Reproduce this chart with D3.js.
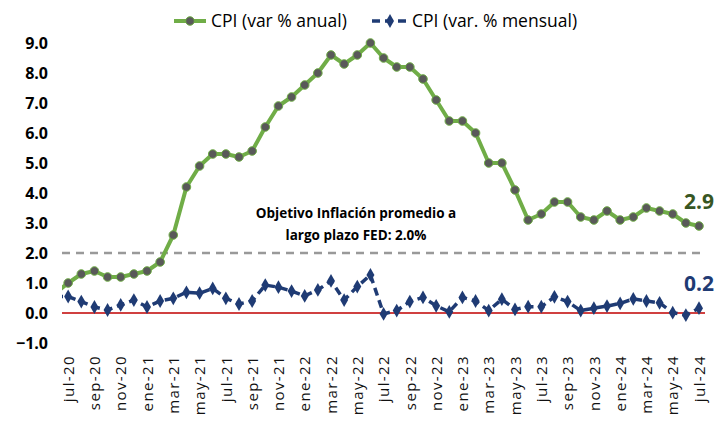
<!DOCTYPE html>
<html>
<head>
<meta charset="utf-8">
<script src="https://cdn.jsdelivr.net/npm/d3@7"></script>
<style>
  body { margin: 0; background: #fff; }
  svg { display: block; font-family: "Open Sans", sans-serif; }
</style>
</head>
<body>
<div class="cpi-figure"></div>
<script>
// months, jun-20 .. jul-24 (jun-20 sits just outside the plot and is clipped)
let months = ["jun-20","jul-20","ago-20","sep-20","oct-20","nov-20","dic-20",
  "ene-21","feb-21","mar-21","abr-21","may-21","jun-21","jul-21","ago-21","sep-21","oct-21","nov-21","dic-21",
  "ene-22","feb-22","mar-22","abr-22","may-22","jun-22","jul-22","ago-22","sep-22","oct-22","nov-22","dic-22",
  "ene-23","feb-23","mar-23","abr-23","may-23","jun-23","jul-23","ago-23","sep-23","oct-23","nov-23","dic-23",
  "ene-24","feb-24","mar-24","abr-24","may-24","jun-24","jul-24"];

// CPI var % anual
let anual = [0.65, 1.0, 1.3, 1.4, 1.2, 1.2, 1.3,
  1.4, 1.7, 2.6, 4.2, 4.9, 5.3, 5.3, 5.2, 5.4, 6.2, 6.9, 7.2,
  7.6, 8.0, 8.6, 8.3, 8.6, 9.0, 8.5, 8.2, 8.2, 7.8, 7.1, 6.4,
  6.4, 6.0, 5.0, 5.0, 4.1, 3.1, 3.3, 3.7, 3.7, 3.2, 3.1, 3.4,
  3.1, 3.2, 3.5, 3.4, 3.3, 3.0, 2.9];

// CPI var. % mensual
let mensual = [0.55, 0.55, 0.38, 0.2, 0.1, 0.27, 0.43,
  0.2, 0.4, 0.49, 0.69, 0.66, 0.82, 0.49, 0.3, 0.4, 0.93, 0.86, 0.73,
  0.57, 0.77, 1.07, 0.43, 0.88, 1.27, -0.03, 0.08, 0.38, 0.52, 0.24, 0.04,
  0.52, 0.4, 0.08, 0.46, 0.12, 0.21, 0.21, 0.54, 0.38, 0.08, 0.16, 0.23,
  0.32, 0.47, 0.4, 0.34, 0.01, -0.07, 0.16];

let tickMonths = ["jul-20","sep-20","nov-20","ene-21","mar-21","may-21","jul-21","sep-21","nov-21",
  "ene-22","mar-22","may-22","jul-22","sep-22","nov-22","ene-23","mar-23","may-23",
  "jul-23","sep-23","nov-23","ene-24","mar-24","may-24","jul-24"];

let yTicks = [-1, 0, 1, 2, 3, 4, 5, 6, 7, 8, 9];
let fedTarget = 2.0;

let width = 723, height = 430;
let plot = {left: 62, right: 706};

let greenC = "#70ad47", navyC = "#1f3b74";

let svg = d3.select(".cpi-figure")
  .append("svg")
  .attr("width", width)
  .attr("height", height);

let x = d3.scalePoint()
  .domain(months)
  .range([55, 699]);

let y = d3.scaleLinear()
  .domain([-1, 9])
  .range([343, 43]);

svg.append("clipPath")
  .attr("id", "plotclip")
  .append("rect")
  .attr("x", plot.left).attr("y", 0)
  .attr("width", plot.right - plot.left).attr("height", height);

// y axis
let yAxis = svg.append("g")
  .attr("transform", "translate(48,0)")
  .call(d3.axisLeft(y).tickValues(yTicks).tickSize(0).tickFormat(d3.format(".1f")));
yAxis.select(".domain").remove();
yAxis.selectAll("text")
  .attr("x", 0)
  .style("font-family", "'Open Sans', sans-serif")
  .style("font-size", "16px")
  .style("font-weight", "bold")
  .attr("fill", "#000");

// x axis
let xAxis = svg.append("g")
  .attr("transform", "translate(0,355)")
  .call(d3.axisBottom(x).tickValues(tickMonths).tickSize(0));
xAxis.select(".domain").remove();
xAxis.selectAll("text")
  .attr("transform", "rotate(-90)")
  .attr("x", 0).attr("y", 0).attr("dy", "0.35em")
  .style("text-anchor", "end")
  .style("font-family", "'Open Sans', sans-serif")
  .style("font-size", "15px")
  .style("letter-spacing", "1.4px")
  .attr("fill", "#111");

let g = svg.append("g").attr("clip-path", "url(#plotclip)");

// zero line
g.append("line")
  .attr("x1", plot.left).attr("x2", plot.right - 1)
  .attr("y1", y(0)).attr("y2", y(0))
  .attr("stroke", "#c00000").attr("stroke-width", 1.5);

// FED target
g.append("line")
  .attr("x1", plot.left).attr("x2", plot.right + 2)
  .attr("y1", y(fedTarget)).attr("y2", y(fedTarget))
  .attr("stroke", "#999").attr("stroke-width", 2.5)
  .attr("stroke-dasharray", "8,6");

let line = d3.line()
  .x((d, i) => x(months[i]))
  .y(d => y(d));

// monthly
g.append("path")
  .datum(mensual)
  .attr("d", line)
  .attr("fill", "none")
  .attr("stroke", navyC)
  .attr("stroke-width", 3.5)
  .attr("stroke-dasharray", "8,5");

g.selectAll(".dia")
  .data(mensual)
  .enter().append("path")
  .attr("class", "dia")
  .attr("transform", (d, i) => "translate(" + x(months[i]) + "," + y(d) + ")")
  .attr("d", d3.symbol().type(d3.symbolDiamond).size(55))
  .attr("fill", navyC);

// annual
g.append("path")
  .datum(anual)
  .attr("d", line)
  .attr("fill", "none")
  .attr("stroke", greenC)
  .attr("stroke-width", 4)
  .attr("stroke-linejoin", "round");

g.selectAll(".dot")
  .data(anual)
  .enter().append("circle")
  .attr("class", "dot")
  .attr("cx", (d, i) => x(months[i]))
  .attr("cy", d => y(d))
  .attr("r", 4.3)
  .attr("fill", "#595959")
  .attr("stroke", greenC)
  .attr("stroke-width", 1);

// end labels
let last = months.length - 1;
svg.append("text")
  .attr("x", x(months[last])).attr("y", y(anual[last]) - 17)
  .attr("text-anchor", "middle")
  .style("font-size", "21px").style("font-weight", "bold")
  .attr("fill", "#375623")
  .text(d3.format(".1f")(anual[last]));

svg.append("text")
  .attr("x", x(months[last])).attr("y", y(mensual[last]) - 17)
  .attr("text-anchor", "middle")
  .style("font-size", "21px").style("font-weight", "bold")
  .attr("fill", navyC)
  .text(d3.format(".1f")(mensual[last]));

// annotation
let note = svg.append("text")
  .attr("x", 356).attr("y", 218)
  .attr("text-anchor", "middle")
  .style("font-size", "13.5px").style("font-weight", "bold")
  .attr("fill", "#000");
note.append("tspan").attr("x", 356).text("Objetivo Inflación promedio a");
note.append("tspan").attr("x", 356).attr("dy", 22).text("largo plazo FED: 2.0%");

// legend
let leg = svg.append("g").attr("transform", "translate(0,21)");
leg.append("line")
  .attr("x1", 174).attr("x2", 206)
  .attr("stroke", greenC).attr("stroke-width", 4);
leg.append("circle")
  .attr("cx", 190).attr("r", 4.3)
  .attr("fill", "#595959").attr("stroke", greenC);
leg.append("text")
  .attr("x", 211).attr("dy", "0.35em")
  .style("font-size", "17.5px")
  .attr("fill", "#000")
  .text("CPI (var % anual)");

leg.append("line")
  .attr("x1", 372).attr("x2", 408)
  .attr("stroke", navyC).attr("stroke-width", 3.5)
  .attr("stroke-dasharray", "8,5");
leg.append("path")
  .attr("transform", "translate(390,0)")
  .attr("d", d3.symbol().type(d3.symbolDiamond).size(55))
  .attr("fill", navyC);
leg.append("text")
  .attr("x", 412).attr("dy", "0.35em")
  .style("font-size", "17.5px")
  .attr("fill", "#000")
  .text("CPI (var. % mensual)");
</script>
</body>
</html>
